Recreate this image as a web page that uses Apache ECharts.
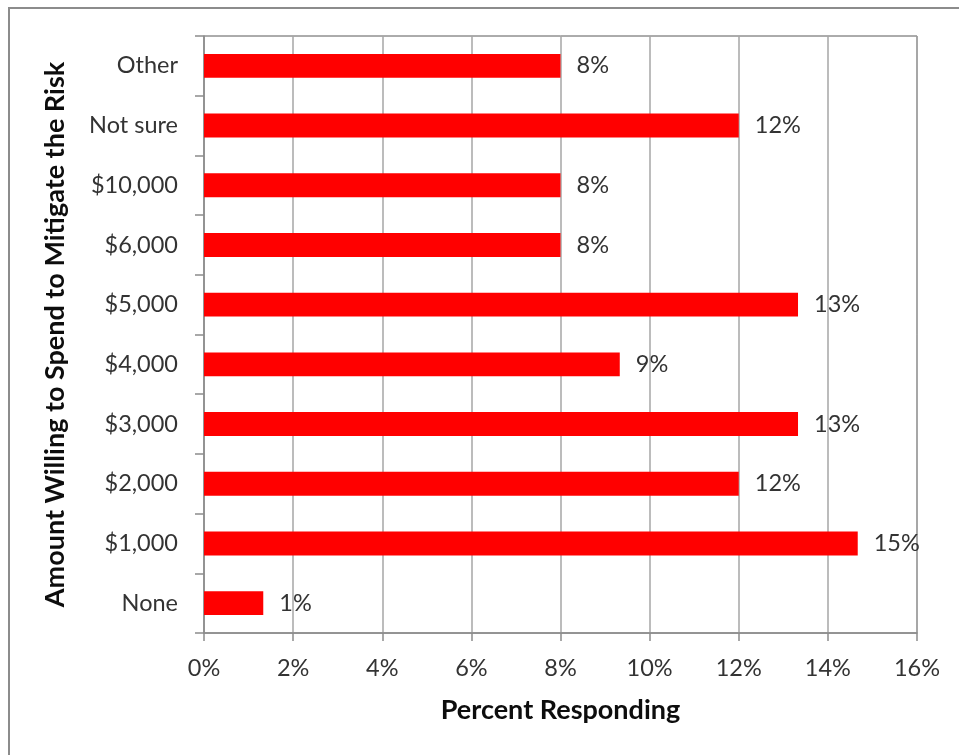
<!DOCTYPE html>
<html>
<head>
<meta charset="utf-8">
<script src="https://cdn.jsdelivr.net/npm/echarts@6/dist/echarts.min.js"></script>
<style>
  html, body { margin: 0; padding: 0; background: #ffffff; }
  #chart { width: 959px; height: 755px; }
</style>
</head>
<body>
<div id="chart"></div>
<script>
// Survey answers, listed bottom to top as they appear on the axis
const categories = ['None', '$1,000', '$2,000', '$3,000', '$4,000', '$5,000', '$6,000', '$10,000', 'Not sure', 'Other'];
// Share of respondents (percent)
const percentResponding = [1.33, 14.67, 12, 13.33, 9.33, 13.33, 8, 8, 12, 8];
// Percent axis
const axisMin = 0;
const axisMax = 16;
const axisStep = 2;

const FONT = 'Lato, "Open Sans", sans-serif';
const TEXT = '#333333';
const TITLE = '#0d0d0d';

const chart = echarts.init(document.getElementById('chart'), null, { renderer: 'canvas' });

chart.setOption({
  animation: false,
  backgroundColor: '#ffffff',
  graphic: [{
    type: 'rect',
    shape: { x: 9, y: 8, width: 1000, height: 800 },
    style: { fill: 'none', stroke: '#8c8c8c', lineWidth: 2 },
    silent: true,
    z: -1
  }],
  grid: {
    left: 204, right: 42, top: 36, bottom: 122,
    show: true, borderColor: '#595959', borderWidth: 1, backgroundColor: 'transparent'
  },
  xAxis: {
    type: 'value',
    min: axisMin, max: axisMax, interval: axisStep,
    name: 'Percent Responding',
    nameLocation: 'middle',
    nameGap: 64,
    nameTextStyle: { fontFamily: FONT, fontSize: 27, fontWeight: 'bold', color: TITLE },
    axisLine: { show: true, lineStyle: { color: '#8c8c8c', width: 1.5 } },
    axisTick: { show: true, length: 8, inside: false, lineStyle: { color: '#8c8c8c', width: 1.5 } },
    axisLabel: {
      margin: 23, fontFamily: FONT, fontSize: 23.5, color: TEXT,
      formatter: v => v + '%'
    },
    splitLine: { show: true, lineStyle: { color: '#a6a6a6', width: 1.5 } }
  },
  yAxis: {
    type: 'category',
    data: categories,
    name: 'Amount Willing to Spend to Mitigate the Risk',
    nameLocation: 'middle',
    nameGap: 135,
    nameRotate: 90,
    nameTextStyle: { fontFamily: FONT, fontSize: 27, fontWeight: 'bold', color: TITLE },
    axisLine: { show: true, lineStyle: { color: '#8c8c8c', width: 1.5 } },
    axisTick: { show: true, length: 9, alignWithLabel: false, lineStyle: { color: '#8c8c8c', width: 1.5 } },
    axisLabel: { margin: 26, fontFamily: FONT, fontSize: 23.5, color: TEXT },
    splitLine: { show: false }
  },
  series: [{
    type: 'bar',
    data: percentResponding,
    barCategoryGap: '60%',
    itemStyle: { color: '#ff0000' },
    label: {
      show: true,
      position: 'right',
      distance: 16,
      fontFamily: FONT, fontSize: 23.5, color: TEXT,
      formatter: p => Math.round(p.value) + '%'
    }
  }]
});
</script>
</body>
</html>
